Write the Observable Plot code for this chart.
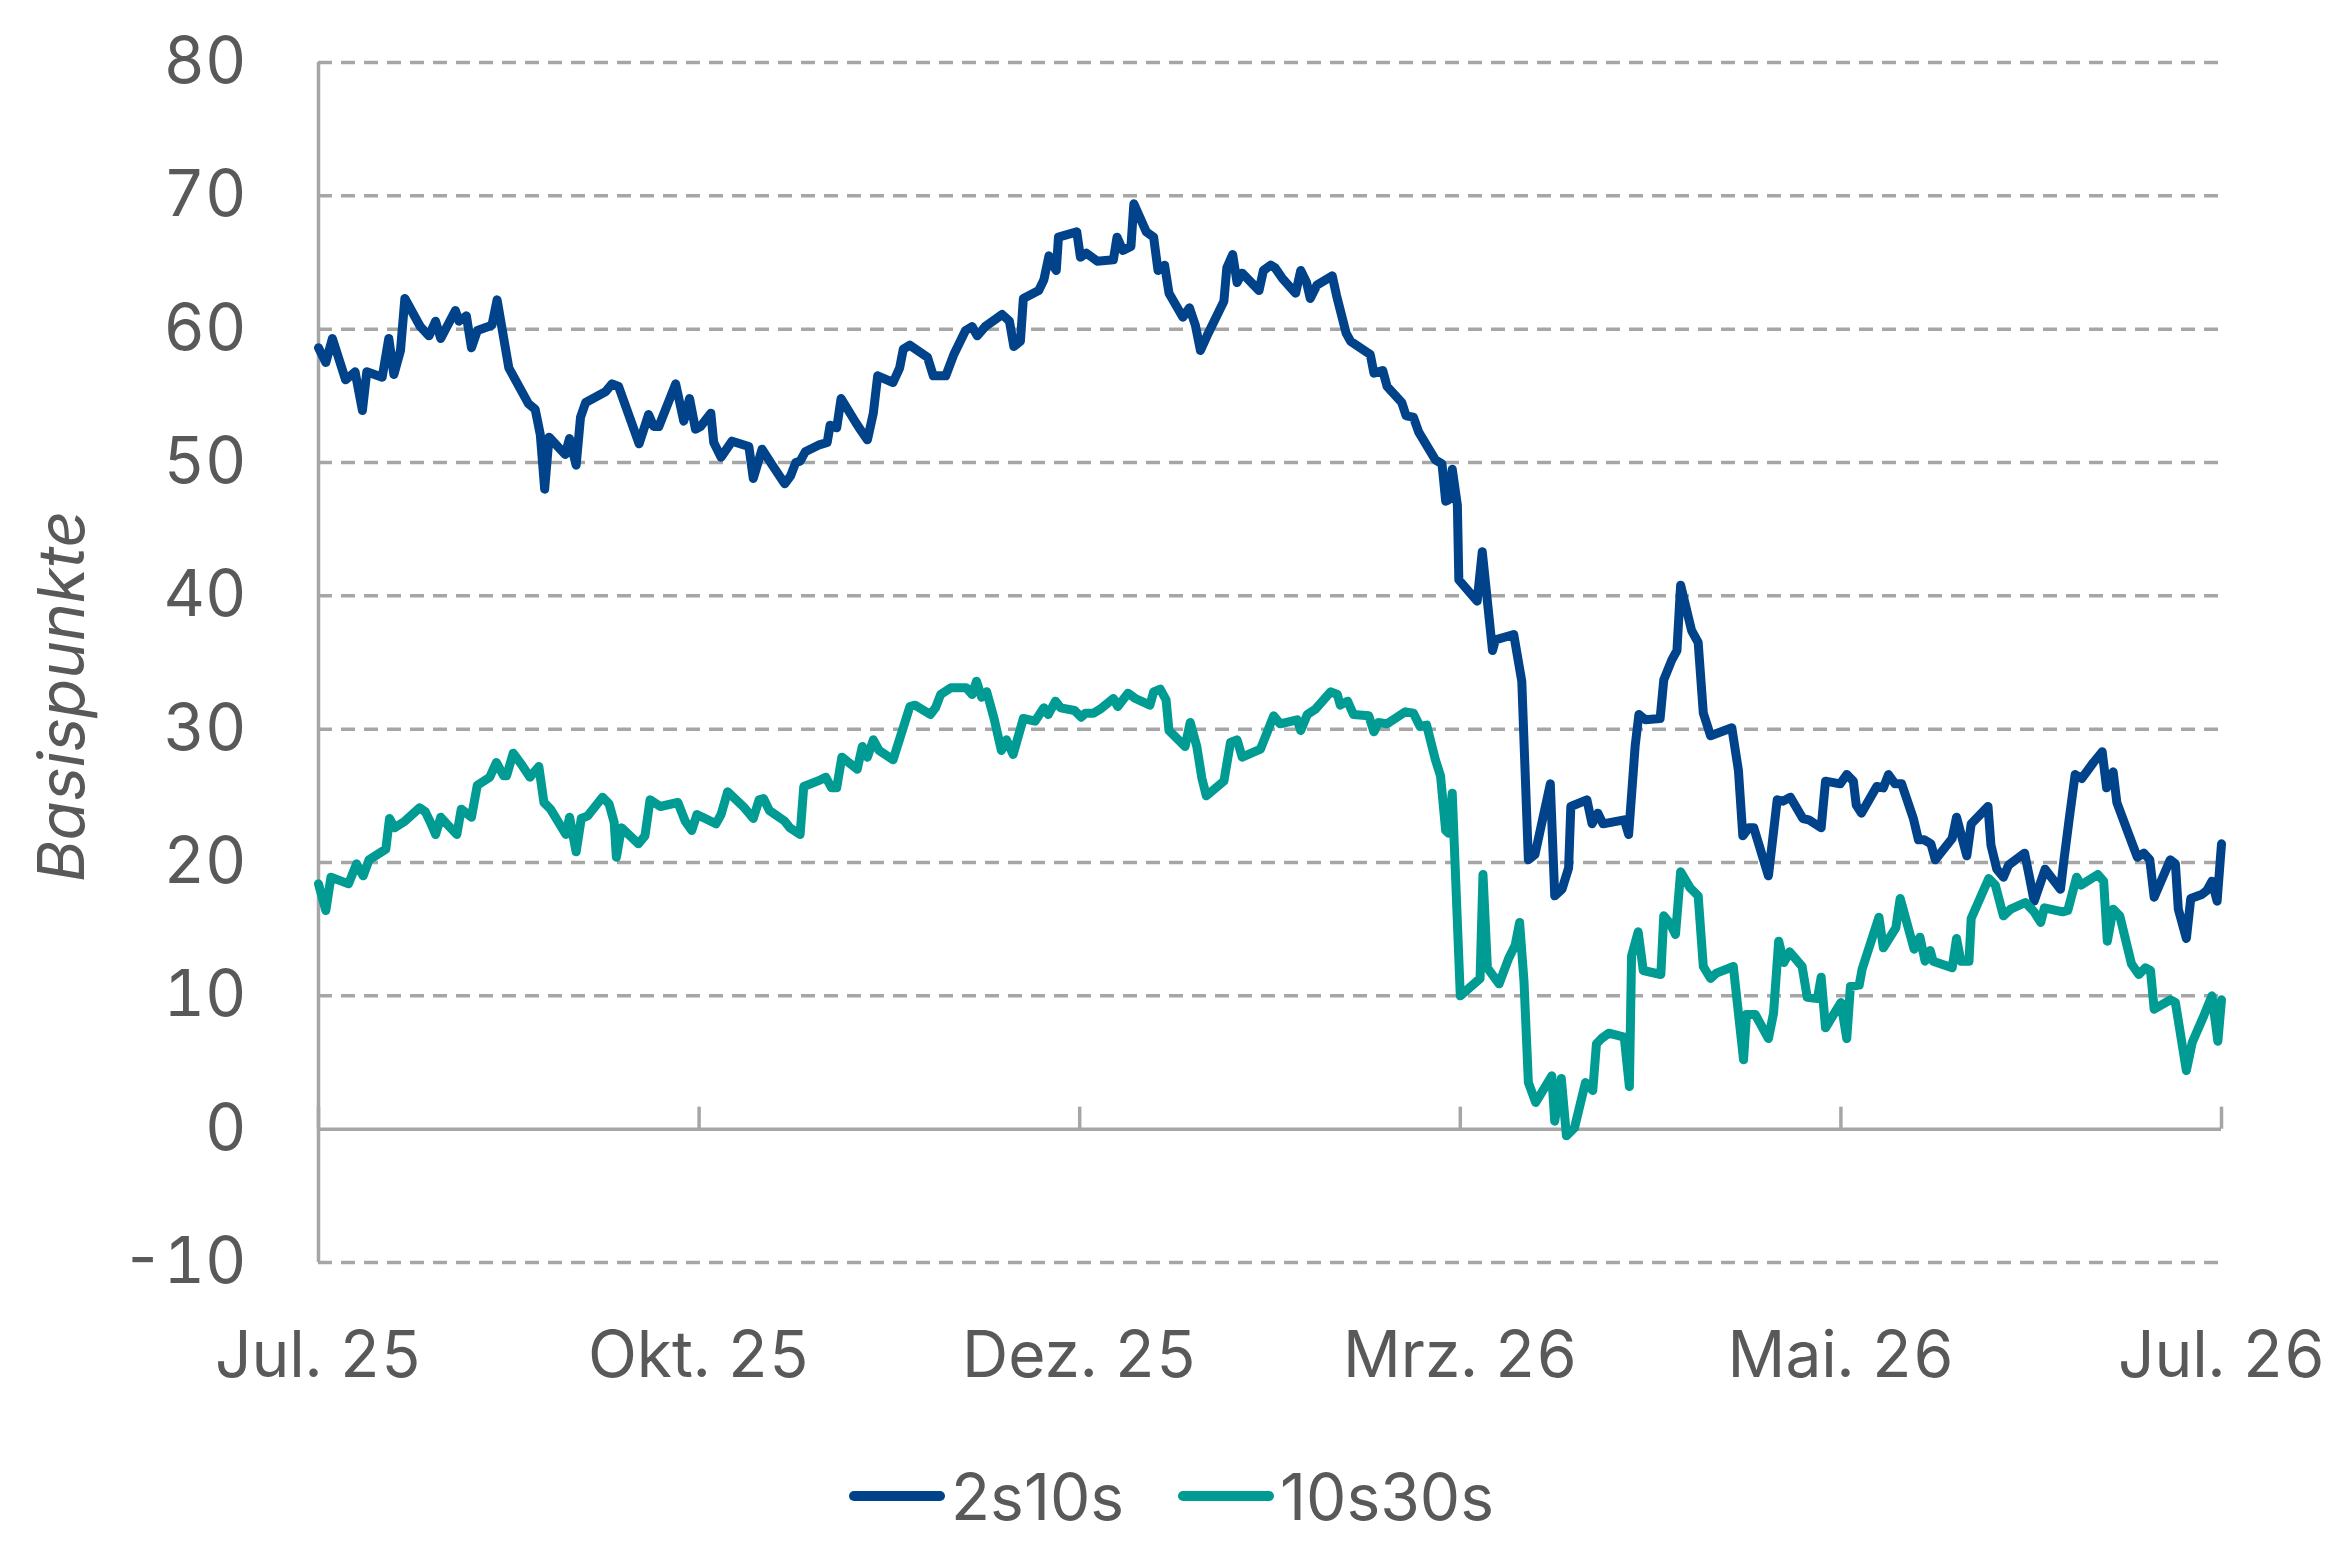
<!DOCTYPE html>
<html>
<head>
<meta charset="utf-8">
<script src="https://cdn.jsdelivr.net/npm/d3@7"></script>
<script src="https://cdn.jsdelivr.net/npm/@observablehq/plot@0.6"></script>
<style>
  html, body { margin: 0; padding: 0; background: #fff; }
  #wrap { width: 2339px; font-family: Inter, "Open Sans", sans-serif; color: #595959; }
  #legend { display: flex; justify-content: center; align-items: center; height: 80px; margin-top: 36px; font-size: 64px; padding-left: 4px; }
  .item { display: flex; align-items: center; margin: 0 27px; }
  .sw { width: 96px; height: 10px; border-radius: 5px; margin-right: 6px; }
</style>
</head>
<body>
<div id="wrap">
  <div id="chart"></div>
  <div id="legend"></div>
</div>
<script>
// Trading-day index (0 = Jul. 25 ... 260 = Jul. 26) and values in basis points
const idx2s10s = [0,1,1.9,3.7,5,6,6.6,8.7,9.6,10.3,11.2,11.8,13.9,15.1,16,16.7,18.7,19.2,20.2,20.9,21.7,23.7,24.4,26,28.7,29.6,30.3,30.9,31.5,33.7,34.3,35.2,35.8,36.5,39.2,40.1,41,43.8,45.1,45.8,46.5,48.8,49.9,50.7,51.5,52.2,53.6,54,55,56.5,58.8,59.4,60.6,62,63.7,64.5,65.2,65.8,66.5,68.3,69.5,69.9,70.8,71.4,73.4,74,75,75.8,76.4,78.5,79.4,79.9,80.8,83.2,84,85.7,86.8,88.4,89.3,90,91.1,93.4,94.4,95,95.9,96.3,98.4,99.1,99.8,100.2,100.8,101.1,103.6,104.1,104.9,106.4,108.6,109.1,109.9,111,111.4,113.1,114.1,114.7,115.6,116.2,118.1,119,119.8,120.5,121.4,122.9,123.7,124.1,124.9,125.5,126.2,128.5,129.1,130.1,130.7,131.7,133.5,134.2,135,135.5,136.4,138.5,139.1,140.4,141,143.7,144.2,145.4,146,148,148.6,149.6,150.3,152.6,153.5,154,154.4,154.9,155.6,155.8,158.3,159,160.4,160.8,163.3,164.4,165.3,166.2,168.3,168.9,169.9,170.8,171.1,173.3,174,174.8,175.5,178.4,179,179.9,180.4,181.3,183.3,183.8,184.9,185.6,186.1,187.6,188.5,189.2,190.2,193.1,194,194.6,195.4,196.1,198.1,199.3,200.1,201.1,202.8,203.6,205.3,205.9,207.9,208.8,209.7,210.1,210.8,212.9,213.8,214.5,215.4,216.3,217.9,218.6,219.4,220.3,220.9,223.2,223.8,225.2,225.8,228.1,228.5,229.3,230.2,230.9,233.1,233.8,234.4,235.9,238,238.5,239.2,240,240.9,242.5,243.7,244.3,245.2,245.7,247.4,248.5,249.4,250.2,250.8,253,253.7,254.1,255.2,255.8,257.3,258,258.7,259.4,260];
const val2s10s = [58.6,57.5,59.3,56.2,56.8,53.9,56.8,56.4,59.3,56.6,58.4,62.3,60.2,59.5,60.6,59.3,61.4,60.6,61,58.6,59.9,60.3,62.2,57.1,54.4,54,52.1,48,51.9,50.6,51.8,49.8,53.4,54.5,55.3,55.9,55.7,51.4,53.6,52.7,52.7,55.9,53.1,54.8,52.5,52.7,53.7,51.5,50.4,51.6,51.2,48.8,51,49.8,48.4,49,50,50.1,50.8,51.3,51.5,52.8,52.6,54.8,53,52.5,51.7,53.7,56.5,56,57.1,58.5,58.8,57.9,56.5,56.5,58.1,59.9,60.2,59.5,60.2,61.1,60.6,58.7,59.1,62.3,62.9,63.7,65.5,64.9,64.4,66.9,67.3,65.4,65.7,65.1,65.2,66.9,65.9,66.2,69.4,67.3,66.9,64.4,64.8,62.7,60.9,61.6,60.3,58.4,59.5,61.2,62.1,64.6,65.6,63.5,64.2,62.9,64.4,64.8,64.6,63.8,62.7,64.4,63.5,62.3,63.3,64,62.5,59.7,59.1,58.1,56.7,56.9,55.7,54.5,53.5,53.4,52.3,50.2,49.9,47.1,47.2,49.5,46.8,41.2,39.6,43.3,35.9,36.7,37.1,33.6,20.2,20.6,25.9,17.5,18,19.6,24.2,24.7,22.9,23.7,22.9,23.2,22.1,28.8,31.1,30.7,30.8,33.7,35.2,35.9,40.8,37.4,36.5,31.2,29.5,30.1,26.9,22,22.6,22.6,19,24.7,24.6,24.9,23.3,23.2,22.6,26.1,25.9,26.6,26.1,24.3,23.7,25.7,25.6,26.6,25.9,25.9,23.3,21.7,21.7,21.4,20.2,21.8,23.4,20.5,22.9,24.2,21.3,19.5,18.9,19.8,20.7,18.8,17.1,19.5,18,20.3,23.3,26.6,26.3,27.5,28.3,25.6,26.8,24.5,22,20.4,20.7,20.2,17.4,20.2,19.9,16.5,14.3,17.3,17.6,17.9,18.6,17.1,21.4];

const idx10s30s = [0,1,1.7,4.1,5.2,6.1,6.9,9.2,9.7,10.4,11.8,13.8,14.6,15.3,16,16.7,17.7,18.9,19.5,20.9,21.7,23.4,24.3,25.3,25.7,26.6,27.8,28.9,30.1,30.8,31.7,33.8,34.3,35.2,35.9,36.8,38.8,39.7,40.4,40.7,41.4,43.7,44.6,45.3,46.7,49.1,50.1,51,51.7,54.3,55,55.9,58.2,59.4,60.2,60.8,61.6,63.7,64.4,65.8,66.3,68.6,69.3,70.1,70.8,71.5,73.6,74.3,75,75.8,76.6,78.5,80.8,81.5,83.6,84.3,85,86.4,88.5,89.3,89.9,90.6,91.3,92.3,93.3,94,94.9,96.3,97.9,99.1,99.7,100.7,101.4,103.3,104.2,104.8,105.9,106.8,108.6,109.2,110.6,111.6,113.6,114.1,115,115.8,116.2,118.4,119.1,120,120.7,121.3,123.7,124.6,125.5,126.2,128.7,130.5,131.4,133.7,134.2,135.1,136.2,138.3,139.2,139.6,140.6,141.4,143.5,144.2,144.8,146,148.5,149.6,150.5,151.4,152.6,153.3,154,154.4,154.9,156,158.7,159.1,159.7,161.3,162.6,163.5,164.1,164.7,165.3,166.3,168.5,168.9,169.8,170.5,171.6,173.1,174.1,174.6,175.3,176.3,178.4,179.1,179.4,180.3,181,183.4,183.8,184.7,185.4,186.1,187.4,188.5,189.2,190.2,191,193.3,194.7,195.1,196.3,198.1,198.8,199.5,200.2,201,202.7,203.4,204.8,205.3,205.9,208,208.8,209.3,210.5,210.9,213.2,213.8,215.5,216.1,218,218.8,219.5,220.2,220.6,223.2,223.8,224.4,225.5,225.8,228.2,229.1,230.2,231.2,233.2,234.4,235.3,235.8,238.3,239,240.2,240.8,243.1,243.9,244.4,245.2,246.1,247.7,248.7,249.6,250.3,250.8,253,253.7,255.2,256,257.5,258.7,259.5,260];
const val10s30s = [18.4,16.4,18.9,18.4,19.9,19,20.2,21,23.3,22.6,23.1,24.1,23.8,23,22.1,23.4,22.8,22.1,24,23.4,25.8,26.4,27.5,26.5,26.5,28.2,27.3,26.4,27.2,24.5,24,22.1,23.4,20.8,23.3,23.5,24.9,24.4,23,20.4,22.6,21.4,22,24.7,24.2,24.5,23.1,22.4,23.6,22.9,23.6,25.3,24.1,23.3,24.7,24.8,23.9,23.1,22.6,22.1,25.7,26.2,26.4,25.6,25.6,27.9,27,28.7,27.9,29.2,28.4,27.7,31.7,31.8,31.1,31.6,32.6,33.1,33.1,32.6,33.6,32.4,32.8,30.8,28.4,29.2,28.1,30.8,30.6,31.6,31.1,32.1,31.6,31.4,30.9,31.2,31.2,31.5,32.3,31.7,32.7,32.3,31.8,32.8,33,32.2,29.9,28.7,30.5,28.7,26.3,25,26.1,29,29.2,27.9,28.5,31,30.4,30.7,29.9,31.1,31.5,32.8,32.6,31.8,32.1,31.1,31,29.8,30.5,30.4,31.3,31.2,30.2,30.3,27.7,26.5,22.4,22.2,25.2,10,11.3,19.1,12.1,10.9,12.8,13.8,15.5,11.1,3.5,2,4,0.6,3.8,-0.5,0.1,3.5,2.9,6.4,6.8,7.2,6.9,3.2,13,14.8,11.9,11.6,16,15.4,14.6,19.3,18.1,17.5,12.2,11.3,11.7,12.2,5.2,8.6,8.6,6.8,8.7,14.1,12.5,13.3,12.2,9.9,9.8,11.4,7.6,9.5,6.8,10.7,10.8,12,15.9,13.6,15.1,17.3,13.5,14.4,12.6,13.4,12.6,12.1,14.3,12.6,12.6,15.8,18.8,18.3,16,16.5,17,16.3,15.5,16.6,16.3,16.4,18.9,18.3,19.1,18.6,14.1,16.5,16,12.4,11.6,12.1,11.9,9,9.7,9.5,4.4,6.5,8.4,10,6.6,9.7];

const seriesNames = ["2s10s", "10s30s"];
const seriesColors = ["#00438a", "#009b93"];
const xTickIdx = [0, 52, 104, 156, 208, 260];
const xTickLabels = ["Jul. 25", "Okt. 25", "Dez. 25", "Mrz. 26", "Mai. 26", "Jul. 26"];
const yTicks = [-10, 0, 10, 20, 30, 40, 50, 60, 70, 80];
const yLabel = "Basispunkte";

const rows = [
  ...idx2s10s.map((x, i) => ({series: seriesNames[0], x, y: val2s10s[i]})),
  ...idx10s30s.map((x, i) => ({series: seriesNames[1], x, y: val10s30s[i]}))
];

const gridCol = "#a6a6a6";
const chart = Plot.plot({
  width: 2339,
  height: 1420,
  marginLeft: 318,
  marginRight: 118,
  marginTop: 62,
  marginBottom: 158,
  style: {fontFamily: "Inter, 'Open Sans', sans-serif", color: "#595959", background: "#fff"},
  x: {domain: [0, 260]},
  y: {domain: [-10, 80]},
  color: {domain: seriesNames, range: seriesColors},
  marks: [
    Plot.ruleY(yTicks.filter(d => d !== 0), {y: d => d, stroke: gridCol, strokeWidth: 3.5, strokeDasharray: "14,9"}),
    Plot.ruleY([0], {stroke: gridCol, strokeWidth: 3.5}),
    Plot.ruleX([0], {stroke: gridCol, strokeWidth: 3.5}),
    Plot.ruleX(xTickIdx, {x: d => d, y1: d => 0, y2: d => 0, insetTop: -22, stroke: gridCol, strokeWidth: 3.5}),
    Plot.axisY({ticks: yTicks, tickFormat: d => String(d), tickSize: 0, tickPadding: 72, fontSize: 64, label: null}),
    Plot.axisX({ticks: xTickIdx, tickFormat: d => xTickLabels[xTickIdx.indexOf(d)], tickSize: 0, tickPadding: 69, fontSize: 64, label: null}),
    Plot.text([yLabel], {text: d => d, frameAnchor: "left", textAnchor: "middle", dx: -255, dy: 34, rotate: -90, fontSize: 64, fontStyle: "italic", fill: "#595959"}),
    Plot.line(rows, {x: "x", y: "y", z: "series", stroke: "series", strokeWidth: 9, strokeLinejoin: "round", strokeLinecap: "round"})
  ]
});
document.getElementById("chart").appendChild(chart);

const legend = document.getElementById("legend");
seriesNames.forEach((name, i) => {
  const item = document.createElement("div");
  item.className = "item";
  const sw = document.createElement("span");
  sw.className = "sw";
  sw.style.background = seriesColors[i];
  const t = document.createElement("span");
  t.textContent = name;
  item.appendChild(sw);
  item.appendChild(t);
  legend.appendChild(item);
});
</script>
</body>
</html>
